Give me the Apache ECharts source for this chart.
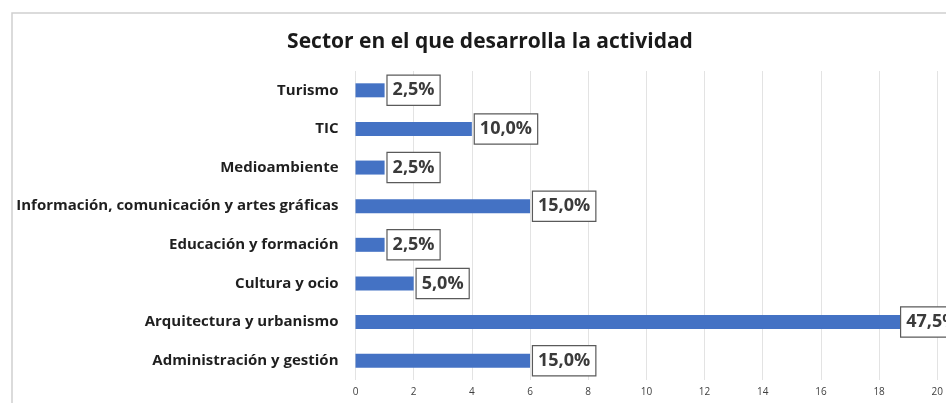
<!DOCTYPE html>
<html>
<head>
<meta charset="utf-8">
<script src="https://cdn.jsdelivr.net/npm/echarts@6/dist/echarts.min.js"></script>
<style>
	html, body { margin: 0; padding: 0; background: #fff; }
	#chart { width: 946px; height: 403px; }
</style>
</head>
<body>
<div id="chart"></div>
<script>
// categories bottom to top, as ECharts draws a category y axis
const sectors = [
	"Administración y gestión",
	"Arquitectura y urbanismo",
	"Cultura y ocio",
	"Educación y formación",
	"Información, comunicación y artes gráficas",
	"Medioambiente",
	"TIC",
	"Turismo",
];
const counts = [6, 19, 2, 1, 6, 1, 4, 1];
const total = 40;
const xTicks = { min: 0, max: 20, interval: 2 };

const FONT = "'Open Sans', sans-serif";
const barColor = "#4472c4";

const fmtPct = (v) => (v / total * 100).toFixed(1).replace(".", ",") + "%";

const chart = echarts.init(document.getElementById("chart"));
chart.setOption({
	animation: false,
	textStyle: { fontFamily: FONT },
	graphic: [{
		type: "rect",
		shape: { x: 12, y: 13, width: 960, height: 420 },
		style: { fill: "none", stroke: "#d0d0d0", lineWidth: 1.5 },
		silent: true,
	}],
	title: {
		text: "Sector en el que desarrolla la actividad",
		left: 485,
		textAlign: "center",
		top: 27,
		textStyle: { fontFamily: FONT, fontSize: 21, fontWeight: "bold", color: "#1a1a1a" },
	},
	grid: { left: 355.5, right: 7, top: 71, bottom: 23, containLabel: false },
	xAxis: {
		type: "value",
		min: xTicks.min,
		max: xTicks.max,
		interval: xTicks.interval,
		axisLine: { show: false },
		axisTick: { show: false },
		axisLabel: { color: "#404040", fontSize: 10, fontFamily: FONT, margin: 7 },
		splitLine: { lineStyle: { color: "#e3e3e3", width: 1 } },
	},
	yAxis: {
		type: "category",
		data: sectors,
		axisLine: { show: false },
		axisTick: { show: false },
		axisLabel: { color: "#1f1f1f", fontSize: 15, fontWeight: "bold", fontFamily: FONT, margin: 17 },
	},
	series: [{
		type: "bar",
		barWidth: 14,
		itemStyle: { color: barColor },
		data: counts.map((v, i) => ({
			value: v,
			label: i === 1 ? { offset: [-10, 0] } : undefined,
		})),
		label: {
			show: true,
			position: "right",
			distance: 3,
			formatter: (p) => fmtPct(p.value),
			fontFamily: FONT,
			fontSize: 18,
			fontWeight: "bold",
			color: "#3a3a3a",
			backgroundColor: "#fff",
			borderColor: "#5a5a5a",
			borderWidth: 1.2,
			padding: [6, 5, 5, 5],
		},
	}],
});
</script>
</body>
</html>
